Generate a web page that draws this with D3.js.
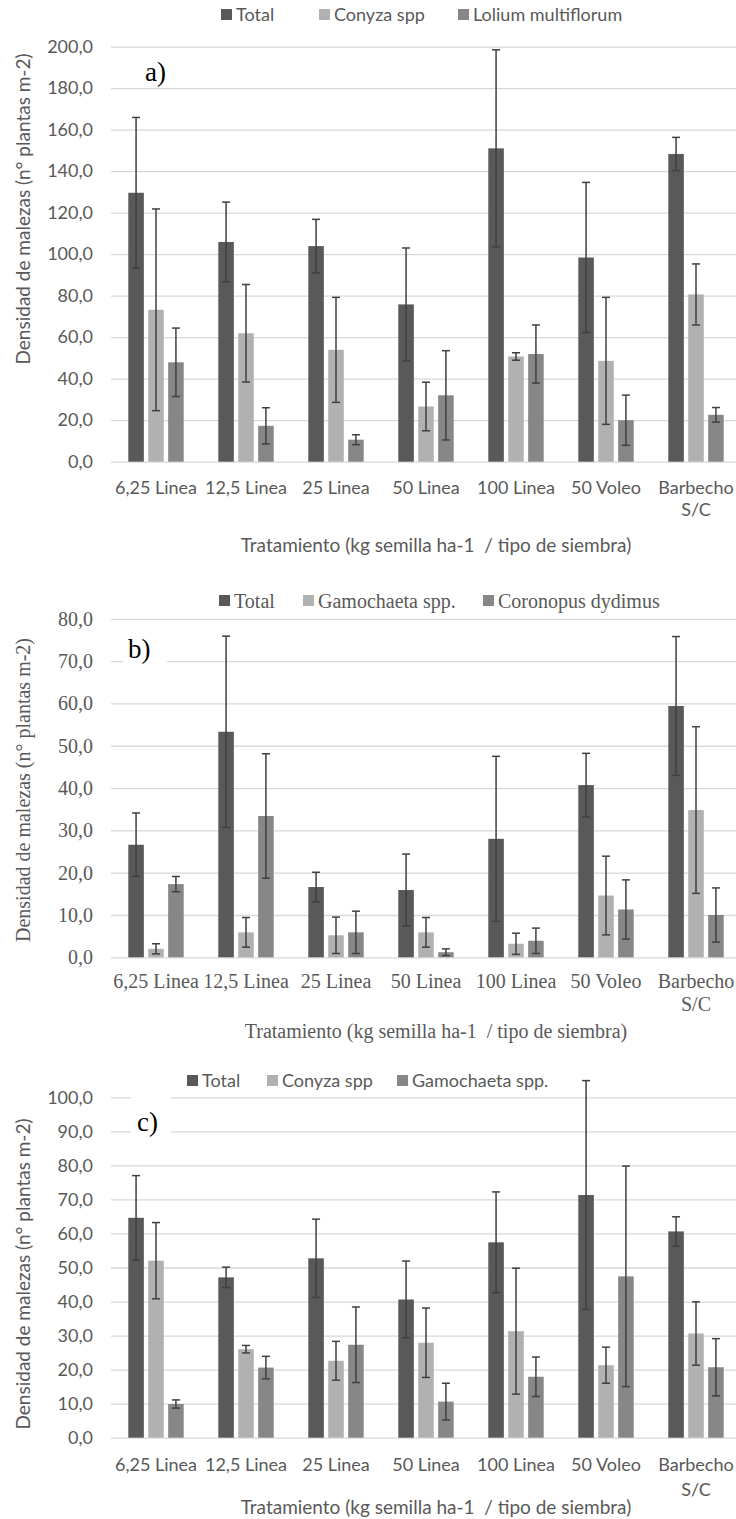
<!DOCTYPE html>
<html>
<head>
<meta charset="utf-8">
<script src="https://cdn.jsdelivr.net/npm/d3@7"></script>
<style>
  body { margin: 0; background: #fff; }
  svg { display: block; }
</style>
</head>
<body>
<div id="chart"></div>
<script>
// categories (x axis)
const categories = ['6,25 Linea', '12,5 Linea', '25 Linea', '50 Linea', '100 Linea', '50 Voleo', 'Barbecho\nS/C'];

// panel a
const aSeries = ['Total', 'Conyza spp', 'Lolium multiflorum'];
const aTotal = [129.6, 105.9, 103.9, 75.8, 151.0, 98.4, 148.3];
const aTotalErr = [36.3, 19.2, 12.9, 27.2, 47.5, 36.2, 8.0];
const aConyza = [73.2, 61.9, 53.9, 26.6, 50.7, 48.6, 80.6];
const aConyzaErr = [48.6, 23.5, 25.3, 11.7, 1.8, 30.6, 14.7];
const aLolium = [47.9, 17.3, 10.6, 32.0, 51.9, 20.0, 22.6];
const aLoliumErr = [16.5, 8.7, 2.4, 21.5, 14.0, 12.1, 3.5];
const aTicks = [0, 20, 40, 60, 80, 100, 120, 140, 160, 180, 200];

// panel b
const bSeries = ['Total', 'Gamochaeta spp.', 'Coronopus dydimus'];
const bTotal = [26.6, 53.3, 16.6, 15.9, 28.0, 40.7, 59.4];
const bTotalErr = [7.5, 22.6, 3.5, 8.5, 19.5, 7.5, 16.4];
const bGam = [2.0, 5.9, 5.2, 5.9, 3.2, 14.6, 34.8];
const bGamErr = [1.2, 3.5, 4.3, 3.5, 2.5, 9.3, 19.7];
const bCor = [17.3, 33.4, 5.9, 1.2, 3.9, 11.3, 10.0];
const bCorErr = [1.8, 14.7, 5.0, 0.8, 3.0, 7.0, 6.4];
const bTicks = [0, 10, 20, 30, 40, 50, 60, 70, 80];

// panel c
const cSeries = ['Total', 'Conyza spp', 'Gamochaeta spp.'];
const cTotal = [64.6, 47.1, 52.7, 40.6, 57.4, 71.3, 60.6];
const cTotalErr = [12.4, 3.0, 11.5, 11.3, 14.8, 33.6, 4.3];
const cConyza = [52.0, 26.0, 22.6, 27.9, 31.3, 21.3, 30.6];
const cConyzaErr = [11.2, 1.1, 5.7, 10.2, 18.5, 5.3, 9.3];
const cGam = [9.9, 20.6, 27.3, 10.6, 17.9, 47.4, 20.7];
const cGamErr = [1.2, 3.3, 11.1, 5.4, 5.8, 32.4, 8.4];
const cTicks = [0, 10, 20, 30, 40, 50, 60, 70, 80, 90, 100];

const yTitle = 'Densidad de malezas (n° plantas m-2)';
const xTitle = 'Tratamiento (kg semilla ha-1  / tipo de siembra)';

const colors = ['#595959', '#b1b1b1', '#878787'];
const sans = 'Lato, "Open Sans", sans-serif';
const serif = '"Liberation Serif", "Times New Roman", serif';
const textColor = '#595959';

const svg = d3.select('#chart')
    .append('svg')
    .attr('width', 736)
    .attr('height', 1519);

const fmt = d => d3.format('.1f')(d).replace('.', ',');

const panels = [
    {
        series: aSeries, values: [aTotal, aConyza, aLolium], errs: [aTotalErr, aConyzaErr, aLoliumErr],
        ticks: aTicks, top: 46.7, bottom: 461.7, font: sans, size: 18, titleSize: 19,
        legendY: 15, legendX: [221, 319, 458],
        tag: 'a)', tagX: 145, tagY: 81, box: null,
        catY: 32.5, line2: 22, xTitleY: 552, yTitleY: 209
    },
    {
        series: bSeries, values: [bTotal, bGam, bCor], errs: [bTotalErr, bGamErr, bCorErr],
        ticks: bTicks, top: 618.8, bottom: 957.3, font: serif, size: 20, titleSize: 20,
        legendY: 601, legendX: [219, 303, 483],
        tag: 'b)', tagX: 128, tagY: 658, box: [123, 630, 44, 38],
        catY: 31, line2: 23, xTitleY: 1038, yTitleY: 790
    },
    {
        series: cSeries, values: [cTotal, cConyza, cGam], errs: [cTotalErr, cConyzaErr, cGamErr],
        ticks: cTicks, top: 1097.3, bottom: 1437.7, font: sans, size: 18, titleSize: 19,
        legendY: 1081, legendX: [187, 267, 397],
        tag: 'c)', tagX: 137, tagY: 1131, box: [131, 1094, 40, 44],
        catY: 33.5, line2: 25, xTitleY: 1514, yTitleY: 1274
    }
];

const left = 111;
const right = 741;

const x0 = d3.scaleBand()
    .domain(categories)
    .range([left, right]);

const x1 = d3.scaleBand()
    .domain([0, 1, 2])
    .range([17.3, 72.7])
    .paddingInner(0.22);

panels.forEach(p => {
    const g = svg.append('g');
    const yMax = p.ticks[p.ticks.length - 1];
    const y = d3.scaleLinear()
        .domain([0, yMax])
        .range([p.bottom, p.top]);

    // grid + y labels
    const yAxis = d3.axisLeft(y)
        .tickValues(p.ticks)
        .tickSizeInner(-(right - left))
        .tickSizeOuter(0)
        .tickPadding(18)
        .tickFormat(fmt);

    const ya = g.append('g')
        .attr('transform', `translate(${left},0)`)
        .call(yAxis);
    ya.select('.domain').remove();
    ya.selectAll('line').attr('stroke', '#d9d9d9').attr('stroke-width', 1.3);
    ya.selectAll('text')
        .attr('fill', textColor)
        .style('font-family', p.font)
        .style('font-size', p.size + 'px');

    // tag box + label
    if (p.box) {
        g.append('rect')
            .attr('x', p.box[0])
            .attr('y', p.box[1])
            .attr('width', p.box[2])
            .attr('height', p.box[3])
            .attr('fill', '#fff');
    }
    g.append('text')
        .attr('x', p.tagX)
        .attr('y', p.tagY)
        .text(p.tag)
        .attr('fill', '#000')
        .style('font-family', serif)
        .style('font-size', '27px');

    // bars
    const rows = categories.map((c, i) => ({
        cat: c,
        items: p.values.map((v, s) => ({ s, v: v[i], e: p.errs[s][i] }))
    }));

    const groups = g.selectAll('.grp')
        .data(rows)
        .join('g')
            .classed('grp', true)
            .attr('transform', d => `translate(${x0(d.cat)},0)`);

    groups.selectAll('rect')
        .data(d => d.items)
        .join('rect')
            .attr('x', d => x1(d.s))
            .attr('width', x1.bandwidth())
            .attr('y', d => y(d.v))
            .attr('height', d => y(0) - y(d.v))
            .attr('fill', d => colors[d.s]);

    // error bars
    const eb = groups.selectAll('.err')
        .data(d => d.items)
        .join('g')
            .classed('err', true)
            .attr('stroke', '#404040')
            .attr('stroke-width', 1.5);
    const cx = d => x1(d.s) + x1.bandwidth() / 2;
    eb.append('line')
        .attr('x1', cx).attr('x2', cx)
        .attr('y1', d => y(d.v - d.e))
        .attr('y2', d => y(d.v + d.e));
    eb.append('line')
        .attr('x1', d => cx(d) - 4).attr('x2', d => cx(d) + 4)
        .attr('y1', d => y(d.v + d.e)).attr('y2', d => y(d.v + d.e));
    eb.append('line')
        .attr('x1', d => cx(d) - 4).attr('x2', d => cx(d) + 4)
        .attr('y1', d => y(d.v - d.e)).attr('y2', d => y(d.v - d.e));

    // x labels
    const xa = g.append('g')
        .attr('transform', `translate(0,${p.bottom})`)
        .call(d3.axisBottom(x0).tickSize(0));
    xa.select('.domain').remove();
    xa.selectAll('text')
        .attr('fill', textColor)
        .attr('y', p.catY)
        .attr('dy', null)
        .style('font-family', p.font)
        .style('font-size', p.size + 'px')
        .each(function(d) {
            const t = d3.select(this);
            const lines = d.split('\n');
            t.text(null);
            lines.forEach((ln, i) => {
                t.append('tspan')
                    .attr('x', 0)
                    .attr('y', p.catY + i * p.line2)
                    .text(ln);
            });
        });

    // axis titles
    g.append('text')
        .attr('x', 436)
        .attr('y', p.xTitleY)
        .attr('text-anchor', 'middle')
        .attr('fill', textColor)
        .style('font-family', p.font)
        .style('font-size', p.titleSize + 'px')
        .style('white-space', 'pre')
        .text(xTitle);

    g.append('text')
        .attr('transform', `translate(30,${p.yTitleY}) rotate(-90)`)
        .attr('text-anchor', 'middle')
        .attr('fill', textColor)
        .style('font-family', p.font)
        .style('font-size', p.titleSize + 'px')
        .text(yTitle);

    // legend
    const lg = g.selectAll('.leg')
        .data(p.series)
        .join('g')
            .classed('leg', true)
            .attr('transform', (d, i) => `translate(${p.legendX[i]},${p.legendY})`);
    lg.append('rect')
        .attr('x', 0)
        .attr('y', -6)
        .attr('width', 11)
        .attr('height', 11)
        .attr('fill', (d, i) => colors[i]);
    lg.append('text')
        .attr('x', 15)
        .attr('dy', '0.35em')
        .attr('fill', textColor)
        .style('font-family', p.font)
        .style('font-size', p.size + 'px')
        .text(d => d);
});
</script>
</body>
</html>
